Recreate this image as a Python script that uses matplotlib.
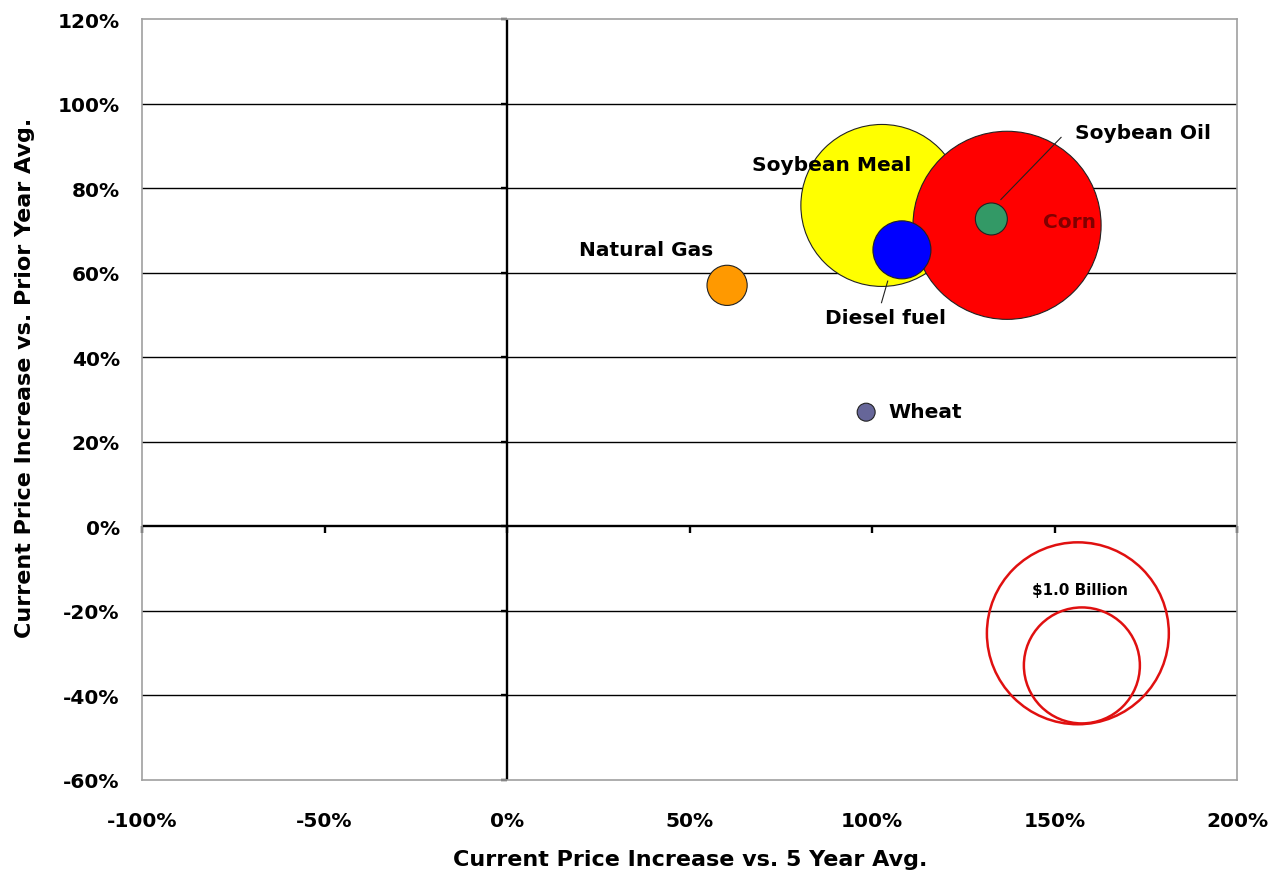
import numpy as np
from matplotlib import pyplot as plt
from matplotlib import ticker

plt.rcParams['font.family'] = ['DejaVu Sans']
plt.rcParams['font.weight'] = 'bold'

# Commodity data: % change vs 5 year avg, % change vs prior year avg, value ($ billion)
commodities = ['Soybean Meal', 'Corn', 'Soybean Oil', 'Diesel fuel', 'Natural Gas', 'Wheat']
vs_5yr = [102.7, 137.0, 132.7, 108.2, 60.3, 98.4]
vs_prior = [75.9, 71.2, 72.7, 65.4, 57.0, 27.0]
value_bn = [1.95, 2.63, 0.076, 0.25, 0.12, 0.024]
bubble_colors = ['#FFFF00', '#FF0000', '#339966', '#0000FF', '#FF9900', '#666699']

# Size key circles
key_x = [156.4, 157.5]
key_y = [-25.3, -32.9]
key_value_bn = [2.46, 1.0]
key_label = '$1.0 Billion'

x_ticks = [-100, -50, 0, 50, 100, 150, 200]
y_ticks = [-60, -40, -20, 0, 20, 40, 60, 80, 100, 120]

# marker area (pt^2) per $1 billion
SIZE_SCALE = 6975

fig = plt.figure(figsize=(12.86, 8.79), dpi=100)
ax = fig.add_axes([142 / 1286, 1 - 781 / 879, (1237 - 142) / 1286, (781 - 20) / 879])

ax.set_xlim(-100, 200)
ax.set_ylim(-60, 120)

# horizontal gridlines
for y in y_ticks:
    if y not in (0, -60, 120):
        ax.axhline(y, color='black', linewidth=1.0, zorder=1)

# zero axes with their tick marks
ax.axhline(0, color='black', linewidth=1.7, zorder=2)
ax.axvline(0, color='black', linewidth=1.7, zorder=2)
ax.plot(x_ticks, np.zeros(len(x_ticks)), linestyle='none', marker=3,
        markersize=5, markeredgewidth=1.7, color='black', zorder=2, clip_on=False)
ax.plot(np.zeros(len(y_ticks)), y_ticks, linestyle='none', marker=0,
        markersize=4, markeredgewidth=1.7, color='black', zorder=2, clip_on=False)

# bubbles
ax.scatter(vs_5yr, vs_prior, s=np.array(value_bn) * SIZE_SCALE, c=bubble_colors,
           edgecolors='#222222', linewidths=0.8, zorder=3)

# size key
ax.scatter(key_x, key_y, s=np.array(key_value_bn) * SIZE_SCALE, facecolors='none',
           edgecolors='#E01010', linewidths=1.8, zorder=3)
ax.text(157, -14.9, key_label, fontsize=11, ha='center', va='center', zorder=4)

# labels
lab = dict(fontsize=14.5, va='center', zorder=4)
ax.text(89, 85.7, 'Soybean Meal', ha='center', **lab)
ax.text(155.6, 93.2, 'Soybean Oil', ha='left', **lab)
ax.text(154.2, 72.1, 'Corn', ha='center', color='#800000', **lab)
ax.text(103.6, 49.4, 'Diesel fuel', ha='center', **lab)
ax.text(38.1, 65.5, 'Natural Gas', ha='center', **lab)
ax.text(104.4, 27.2, 'Wheat', ha='left', **lab)

# leader lines
ax.plot([135.3, 151.8], [77.3, 92.0], color='#222222', linewidth=0.8, zorder=4)
ax.plot([104.3, 102.6], [58.0, 52.9], color='#222222', linewidth=0.8, zorder=4)

# frame and tick labels
for side in ['left', 'right', 'top', 'bottom']:
    ax.spines[side].set_color('#A0A0A0')
    ax.spines[side].set_linewidth(1.2)
ax.set_xticks(x_ticks)
ax.set_yticks(y_ticks)
ax.xaxis.set_major_formatter(ticker.FuncFormatter(lambda v, p: '{:.0f}%'.format(v)))
ax.yaxis.set_major_formatter(ticker.FuncFormatter(lambda v, p: '{:.0f}%'.format(v)))
ax.tick_params(axis='both', length=0, labelsize=14.5)
ax.tick_params(axis='x', pad=22)
ax.tick_params(axis='y', pad=16)

fig.text(690 / 1286, 1 - 860 / 879, 'Current Price Increase vs. 5 Year Avg.',
         fontsize=16, ha='center', va='center')
fig.text(25 / 1286, 1 - 378 / 879, 'Current Price Increase vs. Prior Year Avg.',
         fontsize=16, ha='center', va='center', rotation=90)

plt.savefig('out.png', dpi=100)
